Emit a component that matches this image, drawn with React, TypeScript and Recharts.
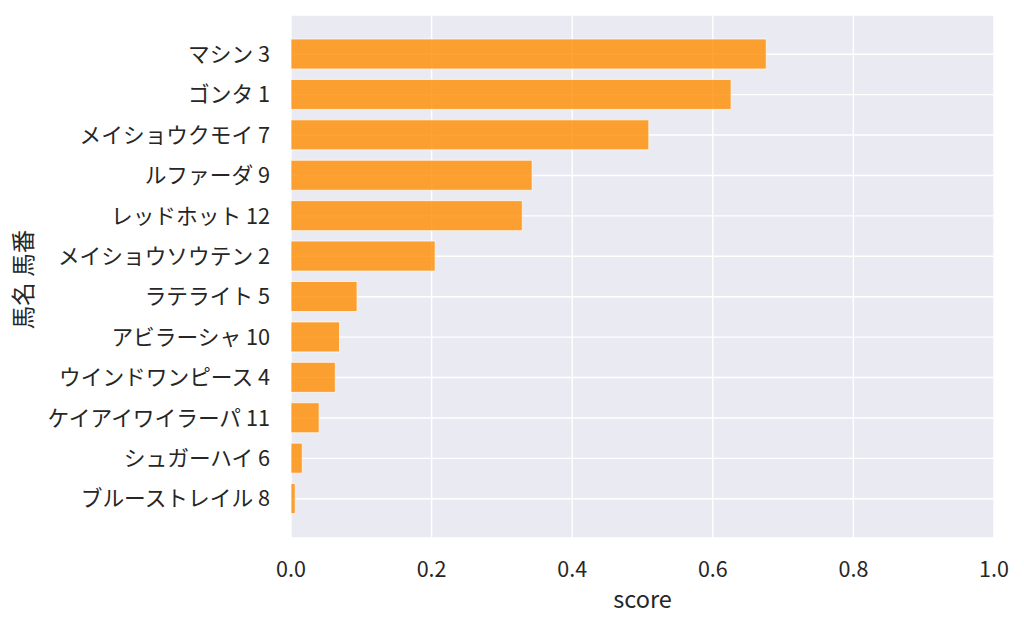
import React from 'react';
import { BarChart, Bar, XAxis, YAxis, CartesianGrid } from 'recharts';

const horses = [
  'マシン 3',
  'ゴンタ 1',
  'メイショウクモイ 7',
  'ルファーダ 9',
  'レッドホット 12',
  'メイショウソウテン 2',
  'ラテライト 5',
  'アビラーシャ 10',
  'ウインドワンピース 4',
  'ケイアイワイラーパ 11',
  'シュガーハイ 6',
  'ブルーストレイル 8',
];
const scores = [0.676, 0.626, 0.509, 0.343, 0.329, 0.205, 0.094, 0.069, 0.063, 0.040, 0.016, 0.006];
const xTicks = [0, 0.2, 0.4, 0.6, 0.8, 1.0];

const data = horses.map((name, i) => ({ name, score: scores[i] }));

const FONT = '"Noto Sans CJK JP", "Noto Sans", sans-serif';
const TXT = '#262626';

export default function App() {
  return (
    <div style={{ position: 'absolute', left: 0, top: 0, width: 1024, height: 627, background: '#ffffff' }}>
      <BarChart
        width={1024}
        height={627}
        data={data}
        layout="vertical"
        margin={{ top: 15, right: 30, bottom: 0, left: 0 }}
        style={{ fontFamily: FONT }}
      >
        <CartesianGrid fill="#eaeaf2" fillOpacity={1} stroke="#ffffff" strokeWidth={1.4} />
        <XAxis
          type="number"
          dataKey="score"
          domain={[0, 1]}
          ticks={xTicks}
          tickFormatter={(v: number) => v.toFixed(1)}
          height={89}
          tickLine={false}
          axisLine={false}
          tickSize={6}
          tickMargin={18}
          tick={{ fill: TXT, fontSize: 21.5, fontFamily: FONT }}
          label={{ value: 'score', position: 'insideBottom', offset: 19, fill: TXT, fontSize: 23.5, fontFamily: FONT }}
        />
        <YAxis
          type="category"
          dataKey="name"
          width={291}
          tickLine={false}
          axisLine={false}
          tickSize={6}
          tickMargin={15}
          interval={0}
          padding={{ top: 19, bottom: 19 }}
          tick={{ fill: TXT, fontSize: 21.7, fontFamily: FONT }}
          label={{
            value: '馬名 馬番',
            angle: -90,
            position: 'insideLeft',
            offset: 24,
            fill: TXT,
            fontSize: 23.5,
            fontFamily: FONT,
            style: { textAnchor: 'middle' },
            dy: 3,
          }}
        />
        <Bar
          dataKey="score"
          barSize={30}
          fill="#ff8c00"
          fillOpacity={0.8}
          stroke="#ffffff"
          strokeOpacity={0.7}
          strokeWidth={1}
          isAnimationActive={false}
        />
      </BarChart>
    </div>
  );
}
